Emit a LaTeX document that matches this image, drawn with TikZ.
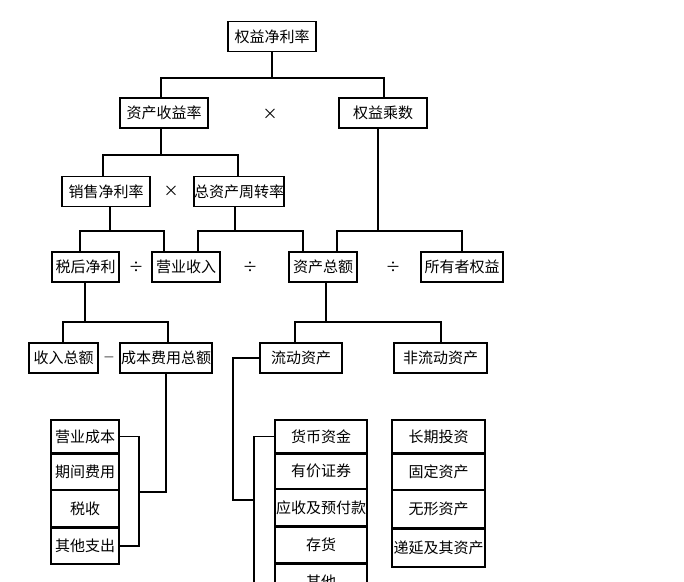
\documentclass[tikz,border=0pt]{standalone}
\usepackage{fontspec}
\setmainfont{Noto Sans CJK SC}
\begin{document}
\begin{tikzpicture}[x=1pt,y=-1pt,
  box/.style={draw,line width=1.3pt,inner sep=0pt,font=\fontsize{15}{15}\selectfont,minimum height=30pt},
  ln/.style={line width=1.3pt},
  op/.style={font=\fontsize{15}{15}\selectfont}]
\useasboundingbox (0,0) rectangle (684,581);
\clip (0,0) rectangle (684,581);
% level 1
\node[box,minimum width=88pt] (a) at (272,36.5) {权益净利率};
\node[box,minimum width=88pt] (b) at (164,113) {资产收益率};
\node[box,minimum width=88pt] (c) at (383,113) {权益乘数};
\node[op] (x1) at (270,114) {×};
\node[box,minimum width=88pt] (d) at (106,191.5) {销售净利率};
\node[box,minimum width=88pt] (e) at (239,191.5) {总资产周转率};
\node[op] (x2) at (171,191) {×};
\node[box,minimum width=67pt] (f) at (85.5,267) {税后净利};
\node[box,minimum width=68pt] (g) at (186,267) {营业收入};
\node[box,minimum width=68pt] (h) at (323,267) {资产总额};
\node[box,minimum width=82pt] (i) at (462,267) {所有者权益};
\node[op] (d1) at (136,267) {÷};
\node[op] (d2) at (250,267) {÷};
\node[op] (d3) at (393,267) {÷};
\node[box,minimum width=69pt] (j) at (63.5,358) {收入总额};
\node[box,minimum width=92pt] (k) at (166,358) {成本费用总额};
\node[op,font=\fontsize{11}{11}\selectfont] (m1) at (109,359) {—};
\node[box,minimum width=82pt] (l) at (301,358) {流动资产};
\node[box,minimum width=93pt] (n) at (440.5,358) {非流动资产};
% left column
\node[box,minimum width=68pt,minimum height=33pt] (p1) at (85,436.5) {营业成本};
\node[box,minimum width=68pt,minimum height=35pt,anchor=north] (p2) at (p1.south) {期间费用};
\node[box,minimum width=68pt,minimum height=36pt,anchor=north] (p3) at (p2.south) {税收};
\node[box,minimum width=68pt,minimum height=36pt,anchor=north] (p4) at (p3.south) {其他支出};
% middle column
\node[box,minimum width=92pt,minimum height=33pt] (q1) at (321,436.5) {货币资金};
\node[box,minimum width=92pt,minimum height=34pt,anchor=north] (q2) at (q1.south) {有价证券};
\node[box,minimum width=92pt,minimum height=36pt,anchor=north] (q3) at (q2.south) {应收及预付款};
\node[box,minimum width=92pt,minimum height=36pt,anchor=north] (q4) at (q3.south) {存货};
\node[box,minimum width=92pt,minimum height=36pt,anchor=north] (q5) at (q4.south) {其他};
% right column
\node[box,minimum width=93pt,minimum height=33pt] (r1) at (438.5,436.5) {长期投资};
\node[box,minimum width=93pt,minimum height=35pt,anchor=north] (r2) at (r1.south) {固定资产};
\node[box,minimum width=93pt,minimum height=37pt,anchor=north] (r3) at (r2.south) {无形资产};
\node[box,minimum width=93pt,minimum height=38pt,anchor=north] (r4) at (r3.south) {递延及其资产};
% connectors
\coordinate (t1) at (272,78);
\draw[ln] (a.south) -- (t1);
\draw[ln] (b.north -| 161,0) |- (t1) -| (c.north -| 384,0);
\coordinate (t2) at (161,155);
\draw[ln] (b.south -| t2) -- (t2);
\draw[ln] (d.north -| 103,0) |- (t2) -| (e.north -| 238,0);
\coordinate (t3) at (110,231);
\draw[ln] (d.south -| t3) -- (t3);
\draw[ln] (f.north -| 80,0) |- (t3) -| (g.north -| 164,0);
\coordinate (t4) at (235,231);
\draw[ln] (e.south -| t4) -- (t4);
\draw[ln] (g.north -| 198,0) |- (t4) -| (h.north -| 303,0);
\coordinate (t5) at (378,231);
\draw[ln] (c.south -| t5) -- (t5);
\draw[ln] (h.north -| 337,0) |- (t5) -| (i.north -| 462,0);
\coordinate (t6) at (85,322);
\draw[ln] (f.south -| t6) -- (t6);
\draw[ln] (j.north -| 63,0) |- (t6) -| (k.north -| 168,0);
\coordinate (t7) at (326,322);
\draw[ln] (h.south -| t7) -- (t7);
\draw[ln] (l.north -| 295,0) |- (t7) -| (n.north -| 441,0);
% left bracket
\coordinate (b1) at (139,492);
\draw[ln] (k.south) |- (b1);
\draw[ln] (p1.east) -| (b1) |- (p4.east);
% middle bracket
\coordinate (b2) at (233,500);
\coordinate (b3) at (254,500);
\draw[ln] (l.west) -| (b2) -- (b3);
\draw[ln] (q1.west) -| (b3) |- (q5.west);
\end{tikzpicture}
\end{document}
